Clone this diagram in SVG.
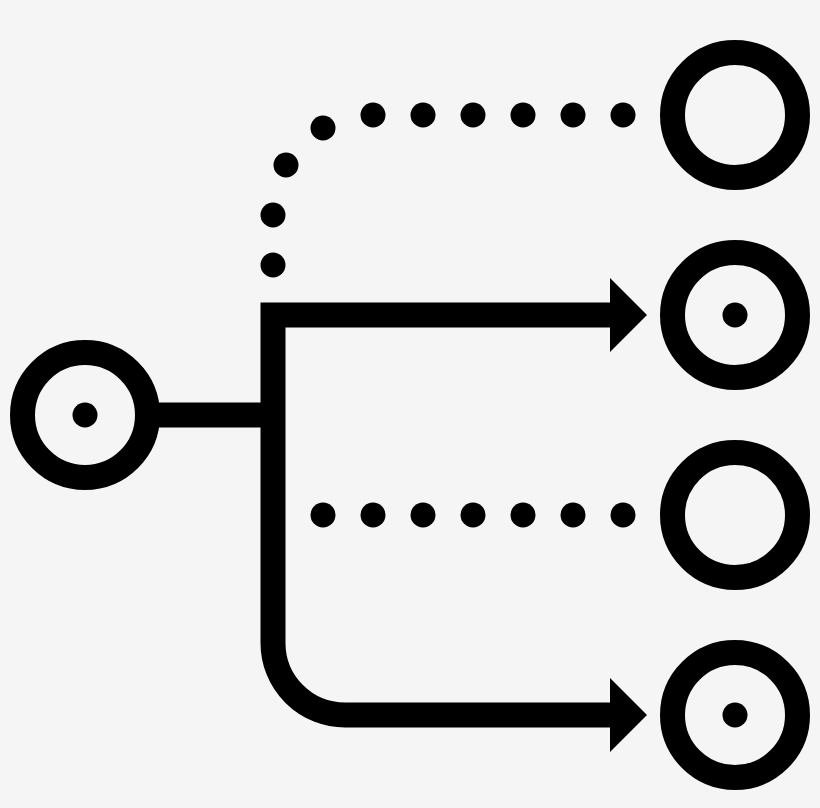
<svg xmlns="http://www.w3.org/2000/svg" width="820" height="808" viewBox="0 0 820 808">
  <style>
    .ring { fill: none; stroke: #000; stroke-width: 25; }
    .core { fill: #000; }
    .wire { fill: none; stroke: #000; stroke-width: 25; stroke-linejoin: miter; stroke-linecap: butt; }
    .head { fill: #000; }
    .dot { fill: #000; }
  </style>
  <rect x="0" y="0" width="820" height="808" fill="#f5f5f5"/>
  <g id="connectors">
    <line class="wire" x1="150" y1="415" x2="273" y2="415"/>
    <path class="wire" d="M 611 315 H 273 V 643 A 72 72 0 0 0 345 715 H 611"/>
    <polygon class="head" points="610,278 647,315 610,352"/>
    <polygon class="head" points="610,678 647,715 610,752"/>
    <g id="dotted-top">
      <circle class="dot" cx="273" cy="265" r="12.5"/>
      <circle class="dot" cx="273" cy="215" r="12.5"/>
      <circle class="dot" cx="286" cy="165" r="12.5"/>
      <circle class="dot" cx="323" cy="128" r="12.5"/>
      <circle class="dot" cx="373" cy="115" r="12.5"/>
      <circle class="dot" cx="423" cy="115" r="12.5"/>
      <circle class="dot" cx="473" cy="115" r="12.5"/>
      <circle class="dot" cx="523" cy="115" r="12.5"/>
      <circle class="dot" cx="573" cy="115" r="12.5"/>
      <circle class="dot" cx="623" cy="115" r="12.5"/>
    </g>
    <g id="dotted-middle">
      <circle class="dot" cx="323" cy="515" r="12.5"/>
      <circle class="dot" cx="373" cy="515" r="12.5"/>
      <circle class="dot" cx="423" cy="515" r="12.5"/>
      <circle class="dot" cx="473" cy="515" r="12.5"/>
      <circle class="dot" cx="523" cy="515" r="12.5"/>
      <circle class="dot" cx="573" cy="515" r="12.5"/>
      <circle class="dot" cx="623" cy="515" r="12.5"/>
    </g>
  </g>
  <g id="source">
    <circle class="ring" cx="85" cy="415" r="62.5"/>
    <circle class="core" cx="85" cy="415" r="12.5"/>
  </g>
  <g id="target-1">
    <circle class="ring" cx="735" cy="115" r="62.5"/>
  </g>
  <g id="target-2">
    <circle class="ring" cx="735" cy="315" r="62.5"/>
    <circle class="core" cx="735" cy="315" r="12.5"/>
  </g>
  <g id="target-3">
    <circle class="ring" cx="735" cy="515" r="62.5"/>
  </g>
  <g id="target-4">
    <circle class="ring" cx="735" cy="715" r="62.5"/>
    <circle class="core" cx="735" cy="715" r="12.5"/>
  </g>
</svg>
